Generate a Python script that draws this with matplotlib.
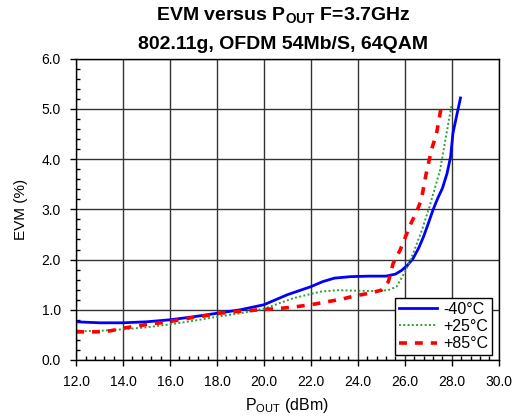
import matplotlib
matplotlib.use('Agg')
import matplotlib.pyplot as plt
from matplotlib.ticker import MultipleLocator

plt.rcParams['font.family'] = ['Liberation Sans', 'DejaVu Sans']

# -40 C
p_m40 = [12.0, 13.0, 14.0, 15.0, 16.0, 17.0, 18.0, 19.0, 20.0, 20.5, 21.0, 21.5, 22.0, 22.5,
         23.0, 23.7, 24.5, 25.2, 25.6, 25.85, 26.1, 26.35, 26.6, 26.8, 27.0, 27.2, 27.4, 27.6,
         27.8, 27.95, 28.05, 28.2, 28.37]
evm_m40 = [0.76, 0.74, 0.74, 0.76, 0.80, 0.86, 0.93, 1.00, 1.10, 1.20, 1.30, 1.38, 1.46, 1.56,
           1.63, 1.66, 1.67, 1.67, 1.71, 1.78, 1.88, 2.02, 2.24, 2.46, 2.72, 2.99, 3.22, 3.42,
           3.72, 4.05, 4.52, 4.85, 5.22]

# +25 C
p_p25 = [12.0, 13.0, 14.0, 15.0, 16.0, 17.0, 18.0, 19.0, 20.0, 20.6, 21.25, 22.4, 23.1, 23.9,
         24.9, 25.35, 25.65, 26.05, 26.35, 26.7, 27.05, 27.5, 27.75, 28.0]
evm_p25 = [0.57, 0.58, 0.61, 0.65, 0.71, 0.78, 0.86, 0.93, 1.02, 1.12, 1.23, 1.36, 1.39, 1.38,
           1.37, 1.40, 1.46, 1.79, 2.12, 2.55, 3.05, 3.78, 4.45, 5.10]

# +85 C
p_p85 = [12.0, 12.9, 13.45, 14.1, 14.65, 15.2, 15.8, 16.4, 16.9, 17.5, 18.1, 18.7, 19.3, 19.8,
         20.5, 21.2, 22.0, 22.7, 23.3, 23.9, 24.5, 25.0, 25.3, 25.5, 25.8, 26.0, 26.2, 26.5,
         26.7, 26.9, 27.13, 27.35, 27.45, 27.55]
evm_p85 = [0.56, 0.56, 0.58, 0.64, 0.68, 0.72, 0.75, 0.80, 0.84, 0.88, 0.93, 0.96, 0.98, 1.00,
           1.02, 1.05, 1.10, 1.16, 1.21, 1.28, 1.33, 1.39, 1.56, 1.92, 2.19, 2.42, 2.66, 2.95,
           3.19, 3.69, 4.18, 4.51, 4.78, 5.04]

fig = plt.figure(figsize=(5.25, 4.2), dpi=100)
ax = fig.add_axes([0.145, 0.143, 0.805, 0.717])

ax.plot(p_m40, evm_m40, color='#0000ff', lw=2.0, label='-40\u00b0C')
ax.plot(p_p25, evm_p25, color='#2e9e2e', lw=1.4, ls=(0, (1, 1.2)), label='+25\u00b0C')
ax.plot(p_p85, evm_p85, color='#ff0000', lw=2.6, ls=(0, (2.2, 2.2)), label='+85\u00b0C')

ax.set_xlim(12, 30)
ax.set_ylim(0, 6)
ax.xaxis.set_major_locator(MultipleLocator(2))
ax.xaxis.set_minor_locator(MultipleLocator(0.4))
ax.yaxis.set_major_locator(MultipleLocator(1))
ax.yaxis.set_minor_locator(MultipleLocator(0.2))
ax.xaxis.set_major_formatter(matplotlib.ticker.FormatStrFormatter('%.1f'))
ax.yaxis.set_major_formatter(matplotlib.ticker.FormatStrFormatter('%.1f'))
ax.tick_params(which='major', direction='out', length=4, width=1, labelsize=10, pad=7)
ax.tick_params(which='minor', direction='in', length=3, width=1)
ax.grid(True, which='major', color='#333333', lw=1.0)
for s in ax.spines.values():
    s.set_linewidth(1.0)

ax.set_xlabel('P$_{\\mathregular{OUT}}$ (dBm)', fontsize=11.5, labelpad=5)
ax.set_ylabel('EVM (%)', fontsize=11, labelpad=10)

leg = ax.legend(loc='lower right', bbox_to_anchor=(0.985, 0.015), fontsize=11.5,
                frameon=True, fancybox=False, edgecolor='black', framealpha=1,
                handlelength=2.4, borderpad=0.25, labelspacing=0.15, handletextpad=0.4,
                borderaxespad=0.0)
leg.get_frame().set_linewidth(1.0)

fig.text(0.54, 0.963, 'EVM versus P$_{\\mathregular{OUT}}$ F=3.7GHz', ha='center', va='center',
         fontsize=14, fontweight='bold')
fig.text(0.54, 0.893, '802.11g, OFDM 54Mb/S, 64QAM', ha='center', va='center',
         fontsize=14, fontweight='bold')

fig.savefig('out.png', dpi=100)
